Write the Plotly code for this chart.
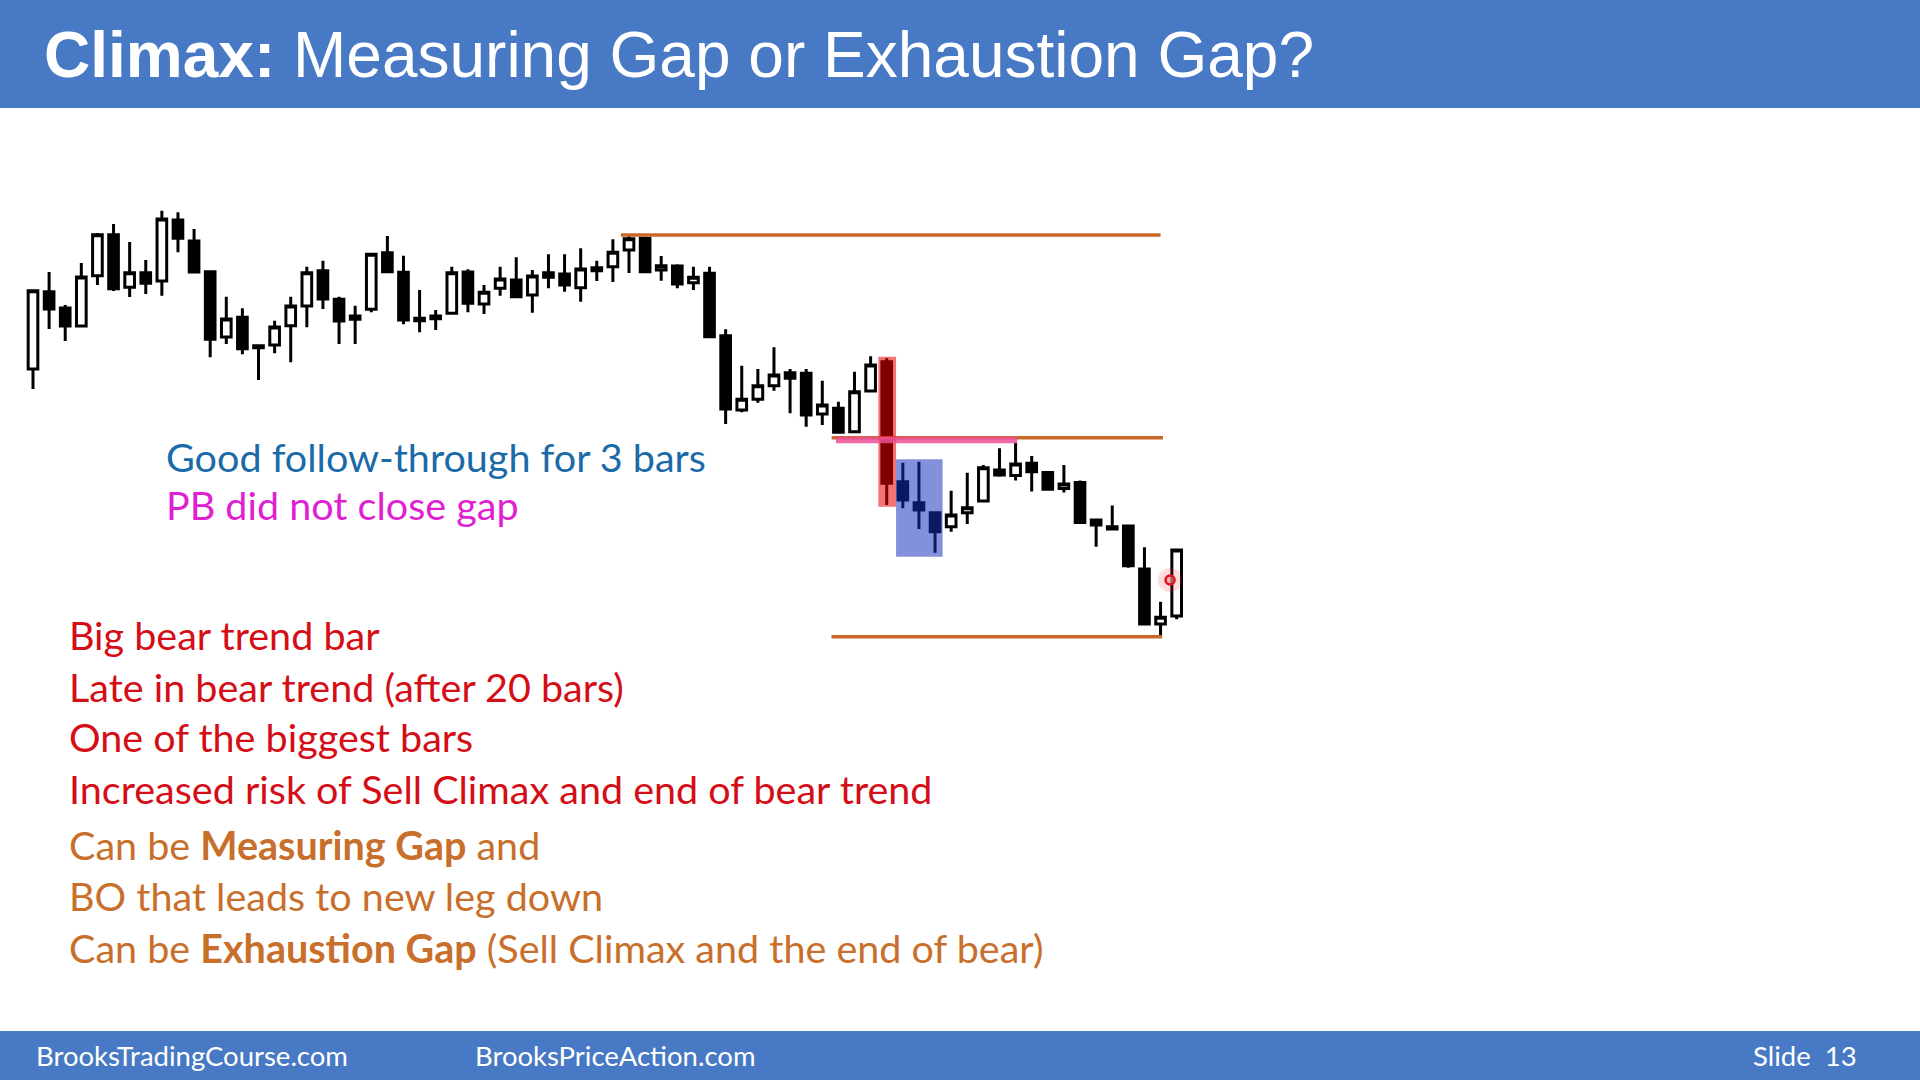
import plotly.graph_objects as go

# ---------------- data (prices) ----------------
bar_index = list(range(72))
open_ = [71.1, 78.83, 77.2, 75.4, 80.43, 84.53, 79.27, 80.73, 79.9, 86.0,
         83.9, 80.83, 74.3, 76.27, 73.43, 73.5, 75.43, 77.4, 80.93, 78.07,
         76.4, 77.07, 82.73, 80.77, 76.17, 76.4, 76.67, 80.8, 77.6, 79.17,
         80.0, 78.5, 80.73, 80.6, 79.23, 81.23, 81.33, 83.0, 84.17, 81.0,
         81.4, 79.73, 80.67, 74.43, 67.0, 68.07, 69.43, 70.73, 70.67, 66.6,
         67.17, 64.83, 68.9, 71.83, 59.83, 57.73, 56.73, 55.33, 56.73, 57.9,
         61.0, 60.45, 61.67, 60.75, 59.15, 59.75, 56.0, 55.33, 55.4, 51.1,
         45.6, 46.4]
high = [78.93, 80.8, 77.5, 81.7, 84.7, 85.6, 83.8, 82.0, 86.93, 86.77,
        85.1, 80.9, 78.33, 77.17, 73.5, 75.93, 78.33, 81.33, 81.93, 78.33,
        77.43, 82.73, 84.4, 82.43, 79.0, 77.0, 81.33, 81.07, 79.5, 81.33,
        82.27, 81.0, 82.57, 82.57, 83.17, 81.93, 84.07, 84.5, 84.33, 82.4,
        81.57, 81.33, 81.33, 75.07, 71.43, 71.1, 73.27, 71.1, 71.1, 69.93,
        67.83, 70.83, 72.37, 72.17, 61.73, 61.83, 56.83, 58.93, 60.73, 61.5,
        63.17, 63.73, 62.4, 60.75, 61.5, 59.95, 56.05, 57.45, 55.4, 53.27,
        47.83, 53.0]
low = [69.1, 75.1, 73.9, 75.3, 79.5, 78.9, 78.3, 78.6, 78.43, 82.77,
       80.73, 72.27, 73.6, 72.57, 70.0, 72.67, 71.77, 75.27, 77.1, 73.6,
       73.6, 76.77, 80.83, 75.57, 74.77, 75.0, 76.67, 76.77, 76.6, 78.43,
       78.27, 76.73, 79.17, 78.83, 77.83, 79.9, 79.8, 80.7, 80.83, 79.93,
       79.17, 79.0, 74.33, 65.6, 66.77, 67.73, 68.93, 66.67, 65.33, 65.5,
       64.67, 64.77, 68.77, 57.5, 57.17, 55.1, 52.73, 54.83, 55.6, 57.83,
       60.33, 59.95, 58.85, 59.0, 58.75, 55.67, 53.33, 55.05, 51.23, 45.5,
       44.33, 46.07]
close = [78.93, 77.1, 75.4, 80.3, 84.53, 79.13, 80.73, 79.67, 86.1, 84.17,
         80.8, 74.07, 76.1, 73.13, 73.23, 75.3, 77.4, 80.73, 78.1, 75.9,
         76.07, 82.57, 80.83, 76.0, 75.93, 76.13, 80.73, 77.67, 78.77, 80.1,
         78.33, 80.4, 80.27, 79.5, 81.1, 80.93, 82.77, 84.13, 80.83, 81.43,
         79.6, 80.27, 74.33, 67.1, 68.07, 69.43, 70.5, 70.17, 66.5, 67.5,
         64.77, 68.83, 71.5, 59.67, 58.0, 57.0, 54.83, 56.5, 57.23, 61.23,
         60.5, 61.6, 60.83, 59.08, 59.6, 55.75, 55.5, 55.1, 51.43, 45.6,
         46.27, 53.0]

# horizontal gap / level lines: (start bar, end bar, price)
level_start = [36.5, 49.58, 49.57]
level_end = [70.0, 70.15, 70.1]
level_price = [84.5, 64.23, 44.33]

# "PB did not close gap" line
pb_line_start, pb_line_end, pb_line_price = 49.85, 61.1, 64.0

# highlighted zones: big bear bar, follow-through bars
bear_zone_x = [52.48, 53.58]
bear_zone_p = [57.33, 72.33]
follow_zone_x = [53.58, 56.47]
follow_zone_p = [52.33, 62.07]

# pointer mark
pointer_x = [70.59]
pointer_p = [50.0]

# ---------------- figure ----------------
W, H = 1920, 1080
BLUE = "#4779c4"
ORANGE = "#c8692a"

fig = go.Figure()
fig.add_trace(go.Candlestick(
    x=bar_index, open=open_, high=high, low=low, close=close,
    increasing=dict(fillcolor="white", line=dict(color="black", width=3)),
    decreasing=dict(fillcolor="black", line=dict(color="black", width=3)),
    whiskerwidth=0, hoverinfo="skip", showlegend=False,
))
fig.add_trace(go.Scatter(
    x=pointer_x, y=pointer_p, mode="markers", hoverinfo="skip", showlegend=False,
    marker=dict(size=24, color="rgba(255,60,60,0.18)", line=dict(width=0)),
))
fig.add_trace(go.Scatter(
    x=pointer_x, y=pointer_p, mode="markers", hoverinfo="skip", showlegend=False,
    marker=dict(size=9, color="rgba(255,150,150,0.6)", line=dict(color="#e0101e", width=2.5)),
))

shapes = []
# bands
shapes.append(dict(type="rect", xref="paper", yref="paper", x0=0, x1=1, y0=1 - 108 / H, y1=1,
                   fillcolor=BLUE, line=dict(width=0), layer="below"))
shapes.append(dict(type="rect", xref="paper", yref="paper", x0=0, x1=1, y0=0, y1=1 - 1031 / H,
                   fillcolor=BLUE, line=dict(width=0), layer="below"))
# level lines
for x0, x1, p in zip(level_start, level_end, level_price):
    shapes.append(dict(type="line", xref="x", yref="y", x0=x0, x1=x1, y0=p, y1=p,
                       line=dict(color=ORANGE, width=3.5), layer="above"))
# highlight zones (semi-transparent, over the candles)
shapes.append(dict(type="rect", xref="x", yref="y", x0=bear_zone_x[0], x1=bear_zone_x[1],
                   y0=bear_zone_p[0], y1=bear_zone_p[1],
                   fillcolor="rgba(232,0,0,0.55)", line=dict(width=0), layer="above"))
shapes.append(dict(type="rect", xref="x", yref="y", x0=follow_zone_x[0], x1=follow_zone_x[1],
                   y0=follow_zone_p[0], y1=follow_zone_p[1],
                   fillcolor="rgba(19,47,189,0.53)", line=dict(width=0), layer="above"))
shapes.append(dict(type="line", xref="x", yref="y", x0=pb_line_start, x1=pb_line_end,
                   y0=pb_line_price, y1=pb_line_price,
                   line=dict(color="rgba(236,80,150,0.85)", width=6.5), layer="above"))


def px(x):
    return x / W


def py(y):
    return 1 - y / H


annotations = []


def add_text(text, x, y, size, color, family="Lato", anchor="left"):
    annotations.append(dict(text=text, x=px(x), y=py(y), xref="paper", yref="paper",
                            xanchor=anchor, yanchor="middle", showarrow=False,
                            font=dict(family=family, size=size, color=color)))


add_text("<b>Climax:</b> Measuring Gap or Exhaustion Gap?", 42, 55, 64, "white",
         family="Liberation Sans")

BLUE_TXT = "#1b6aa8"
MAG = "#e01fd2"
RED = "#d40d16"
OR_TXT = "#c86f2c"
FS = 39.5
add_text("Good follow-through for 3 bars", 164, 456, FS, BLUE_TXT)
add_text("PB did not close gap", 164, 505, FS, MAG)
add_text("Big bear trend bar", 67, 635, FS, RED)
add_text("Late in bear trend (after 20 bars)", 67, 686, FS, RED)
add_text("One of the biggest bars", 67, 736, FS, RED)
add_text("Increased risk of Sell Climax and end of bear trend", 67, 788, FS, RED)
add_text("Can be <b>Measuring Gap</b> and", 67, 844, FS, OR_TXT)
add_text("BO that leads to new leg down", 67, 895, FS, OR_TXT)
add_text("Can be <b>Exhaustion Gap</b> (Sell Climax and the end of bear)", 67, 947, FS, OR_TXT)

add_text("BrooksTradingCourse.com", 34, 1055, 27.5, "white")
add_text("BrooksPriceAction.com", 473, 1055, 27.5, "white")
add_text("Slide\u00a0 13", 1751, 1055, 27.5, "white")

fig.update_layout(
    width=W, height=H, margin=dict(l=0, r=0, t=0, b=0),
    paper_bgcolor="white", plot_bgcolor="white",
    boxgap=0.2, boxgroupgap=0.25,
    shapes=shapes, annotations=annotations,
    xaxis=dict(range=[-33 / 16.108, (W - 33) / 16.108], visible=False,
               rangeslider=dict(visible=False), fixedrange=True),
    yaxis=dict(range=[0, 108], visible=False, fixedrange=True),
    hovermode=False,
)

fig.write_html("out.html", config=dict(displayModeBar=False))
